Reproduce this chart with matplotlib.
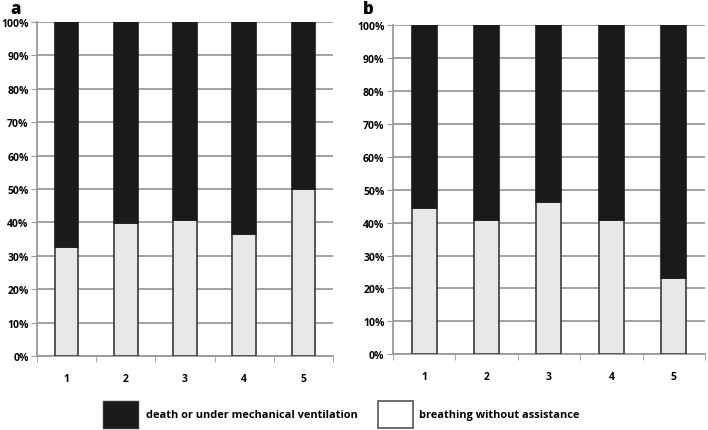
import matplotlib.pyplot as plt
from matplotlib.patches import Rectangle
from matplotlib.ticker import FixedLocator, PercentFormatter

groups = ['1', '2', '3', '4', '5']
# share breathing without assistance (%), rest is death / ventilation
breathing_a = [32.5, 39.8, 40.8, 36.5, 50.0]
breathing_b = [44.5, 40.9, 46.4, 40.8, 23.2]
legend_labels = ['death or under mechanical ventilation', 'breathing without assistance']
panel_labels = ['a', 'b']

dark = '#1a1a1a'
light = '#e8e8e8'
edge = '#3a3a3a'
grid_col = '#9a9a9a'

plt.rcParams['font.family'] = ['Open Sans', 'DejaVu Sans']
plt.rcParams['font.weight'] = 'bold'

fig = plt.figure(figsize=(7.08, 4.31), dpi=100)
ax_a = fig.add_axes([0.0523, 0.1717, 0.4180, 0.7749])
ax_b = fig.add_axes([0.5550, 0.1756, 0.4408, 0.7641])


def draw_panel(ax, values):
    x = list(range(1, len(groups) + 1))
    rest = [100 - v for v in values]
    ax.bar(x, values, width=0.4, color=light, edgecolor=edge, linewidth=1.2, zorder=3)
    ax.bar(x, rest, width=0.4, bottom=values, color=dark, edgecolor=dark, linewidth=1.2, zorder=3)
    ax.set_xlim(0.5, len(groups) + 0.5)
    ax.set_ylim(0, 100)
    ax.set_yticks(range(0, 101, 10))
    ax.yaxis.set_major_formatter(PercentFormatter(decimals=0))
    ax.set_xticks(x)
    ax.set_xticklabels(groups)
    ax.xaxis.set_minor_locator(FixedLocator([i + 0.5 for i in range(0, len(groups) + 1)]))
    ax.tick_params(axis='x', which='major', length=0, pad=12, labelsize=7.5)
    ax.tick_params(axis='x', which='minor', length=4, color=grid_col, direction='out')
    ax.tick_params(axis='y', length=4, color=grid_col, labelsize=7.5, pad=2)
    ax.grid(axis='y', color=grid_col, linewidth=1.3, zorder=0)
    for s in ['top', 'right']:
        ax.spines[s].set_visible(False)
    for s in ['left', 'bottom']:
        ax.spines[s].set_color(grid_col)
        ax.spines[s].set_linewidth(1.3)
    ax.set_axisbelow(True)


draw_panel(ax_a, breathing_a)
draw_panel(ax_b, breathing_b)

fig.text(10 / 708, 1 - 9 / 431, panel_labels[0], fontsize=12, fontweight='heavy', va='center')
fig.text(363 / 708, 1 - 9 / 431, panel_labels[1], fontsize=12, fontweight='heavy', va='center')

# legend boxes drawn in figure pixels
W, H = 708, 431
fig.add_artist(Rectangle((103 / W, 1 - 429 / H), 35 / W, 27 / H, transform=fig.transFigure,
                         facecolor=dark, edgecolor='#333333', linewidth=1))
fig.text(146 / W, 1 - 416 / H, legend_labels[0], fontsize=7.9, fontweight='bold', va='center')
fig.add_artist(Rectangle((378 / W, 1 - 429 / H), 35 / W, 27 / H, transform=fig.transFigure,
                         facecolor='white', edgecolor='#555555', linewidth=1.2))
fig.text(419 / W, 1 - 416 / H, legend_labels[1], fontsize=7.9, fontweight='bold', va='center')

fig.savefig('out.png', dpi=100)
